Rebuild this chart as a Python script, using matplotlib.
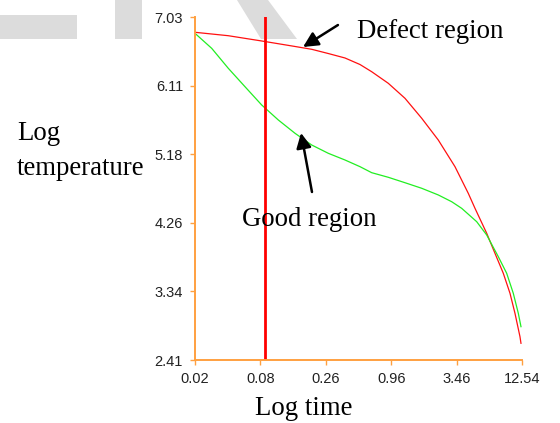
import numpy as np
import matplotlib
matplotlib.use("Agg")
import matplotlib.pyplot as plt
from matplotlib.patches import Polygon

# data (time in the original units, log temperature)
red_time = [0.0200, 0.03853, 0.07437, 0.1433, 0.1992, 0.2763, 0.3838, 0.5158,
            0.6494, 0.9005, 1.251, 1.739, 2.411, 3.350, 4.353, 4.968, 6.255,
            7.365, 8.675, 9.897, 10.92, 12.05, 12.29]
red_temp = [6.824, 6.778, 6.707, 6.633, 6.595, 6.538, 6.478, 6.390,
            6.293, 6.137, 5.935, 5.666, 5.373, 5.014, 4.655, 4.453, 4.117,
            3.847, 3.578, 3.309, 3.039, 2.724, 2.635]

green_time = [0.0200, 0.02779, 0.03853, 0.05355, 0.07437, 0.1032, 0.1433,
              0.1992, 0.2763, 0.3838, 0.5158, 0.6494, 0.9005, 1.251, 1.739,
              2.411, 3.139, 3.822, 5.137, 6.255, 7.861, 9.275, 10.56, 11.66,
              12.29]
green_temp = [6.810, 6.608, 6.339, 6.091, 5.845, 5.643, 5.464,
              5.306, 5.194, 5.104, 5.014, 4.933, 4.871, 4.798, 4.723,
              4.633, 4.542, 4.453, 4.273, 4.094, 3.802, 3.578, 3.309, 3.039,
              2.859]

marker_time = 0.079

x_tick_labels = ["0.02", "0.08", "0.26", "0.96", "3.46", "12.54"]
y_tick_labels = ["2.41", "3.34", "4.26", "5.18", "6.11", "7.03"]

W, H = 560, 423
ORANGE = "#FFA040"
SERIF = "Liberation Serif"


def fx(px):
    return px / W


def fy(py):
    return 1 - py / H


fig = plt.figure(figsize=(W / 100, H / 100), dpi=100)

# grey watermark bits at the top, behind everything
for pts in ([(0, 15), (77, 15), (77, 39), (0, 39)],
            [(115, 0), (142, 0), (142, 39), (115, 39)],
            [(237, 0), (268, 0), (297, 39), (261, 39)]):
    fig.patches.append(Polygon([(fx(a), fy(b)) for a, b in pts], closed=True,
                               transform=fig.transFigure, facecolor="#DCDCDC",
                               edgecolor="none", zorder=-5))

ax = fig.add_axes([fx(195), fy(360), fx(522) - fx(195), fy(17) - fy(360)])
ax.patch.set_alpha(0)

ax.plot(red_time, red_temp, color="#FF1010", linewidth=0.9)
ax.plot(green_time, green_temp, color="#22EE22", linewidth=0.9)
ax.axvline(marker_time, color="#FF0000", linewidth=2.0)

ax.set_xscale("log")
ax.set_xlim(0.02, 12.54)
ax.set_ylim(2.41, 7.03)
ax.set_xticks(np.geomspace(0.02, 12.54, len(x_tick_labels)))
ax.set_xticklabels(x_tick_labels)
ax.xaxis.set_minor_locator(matplotlib.ticker.NullLocator())
ax.set_yticks(np.linspace(2.41, 7.03, len(y_tick_labels)))
ax.set_yticklabels(y_tick_labels)

for side in ["top", "right"]:
    ax.spines[side].set_visible(False)
for side in ["left", "bottom"]:
    ax.spines[side].set_color(ORANGE)
    ax.spines[side].set_linewidth(1.4)
ax.tick_params(colors=ORANGE, length=3.6, width=1.0, pad=5,
               labelcolor="#222222", labelsize=10.5)
for lab in ax.get_xticklabels() + ax.get_yticklabels():
    lab.set_family("Liberation Sans")

# arrows pointing at the curves
arrow = dict(arrowstyle="-|>,head_length=0.9,head_width=0.45", color="black",
             linewidth=1.8, shrinkA=0, shrinkB=0)
ax.annotate("", xy=(0.168, 6.626), xytext=(0.334, 6.922), arrowprops=arrow,
            annotation_clip=False)
ax.annotate("", xy=(0.1615, 5.468), xytext=(0.2003, 4.673), arrowprops=arrow,
            annotation_clip=False)

fig.text(fx(357), fy(38), "Defect region", family=SERIF, fontsize=19.3, va="baseline")
fig.text(fx(242), fy(226), "Good region", family=SERIF, fontsize=19.3, va="baseline")
fig.text(fx(17), fy(140), "Log", family=SERIF, fontsize=19.3, va="baseline")
fig.text(fx(17), fy(175), "temperature", family=SERIF, fontsize=19.3, va="baseline")
fig.text(fx(255), fy(415), "Log time", family=SERIF, fontsize=19.3, va="baseline")

fig.savefig("out.png", dpi=100, facecolor="white")
